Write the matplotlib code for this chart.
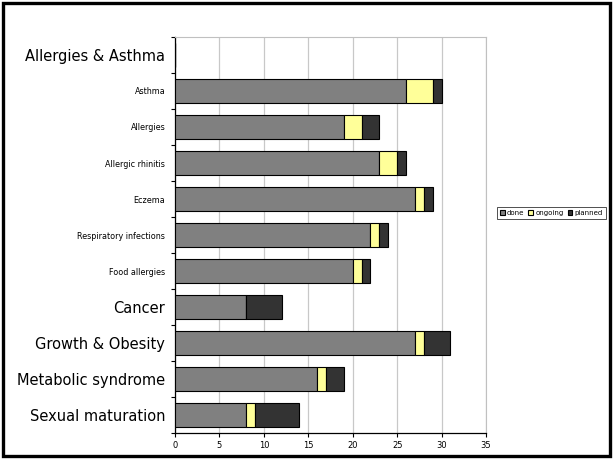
import matplotlib.pyplot as plt
from matplotlib.patches import Rectangle
import numpy as np

categories = ["Allergies & Asthma", "Asthma", "Allergies", "Allergic rhinitis", "Eczema",
              "Respiratory infections", "Food allergies", "Cancer", "Growth & Obesity",
              "Metabolic syndrome", "Sexual maturation"]
big = [True, False, False, False, False, False, False, True, True, True, True]
done = [0, 26, 19, 23, 27, 22, 20, 8, 27, 16, 8]
ongoing = [0, 3, 2, 2, 1, 1, 1, 0, 1, 1, 1]
planned = [0, 1, 2, 1, 1, 1, 1, 4, 3, 2, 5]

fig = plt.figure(figsize=(6.14, 4.61), dpi=100)
ax = fig.add_axes([175/614, 28/461, 311/614, 396/461])

y = np.arange(len(categories))
done = np.array(done)
ongoing = np.array(ongoing)
planned = np.array(planned)

kw = dict(height=0.64, edgecolor="black", linewidth=0.8, zorder=3)
ax.barh(y, done, color="#808080", label="done", **kw)
ax.barh(y, ongoing, left=done, color="#FFFF99", label="ongoing", **kw)
ax.barh(y, planned, left=done + ongoing, color="#333333", label="planned", **kw)

ax.set_xlim(0, 35)
ax.set_ylim(len(categories) - 0.5, -0.5)
ax.set_xticks(range(0, 36, 5))
ax.tick_params(axis="x", labelsize=6, length=3, width=0.8, pad=3)
ax.xaxis.grid(True, color="#c8c8c8", linewidth=0.9, zorder=0)

# category boundaries get the tick marks, labels sit at the bar centres
ax.set_yticks(np.arange(-0.5, len(categories), 1))
ax.set_yticklabels([])
ax.tick_params(axis="y", which="major", length=3, width=0.8)
ax.set_yticks(y, minor=True)
ax.set_yticklabels(categories, minor=True)
ax.tick_params(axis="y", which="minor", length=0, pad=7)
for lab, b in zip(ax.get_yticklabels(minor=True), big):
    lab.set_fontsize(10.5 if b else 5.8)

for s in ["top", "right"]:
    ax.spines[s].set_color("#c0c0c0")
ax.spines["left"].set_linewidth(0.9)
ax.spines["bottom"].set_linewidth(0.9)

leg = fig.legend(loc="center left", bbox_to_anchor=(497/614, 1 - 213/461), ncol=3,
                 fontsize=5, frameon=True, fancybox=False, edgecolor="black",
                 handlelength=0.7, handleheight=0.7, handletextpad=0.3,
                 columnspacing=0.6, borderpad=0.4, borderaxespad=0)
leg.get_frame().set_linewidth(0.6)

# outer frame around the whole figure
fig.patches.append(Rectangle((3/614, 5/461), 607/614, 453/461, transform=fig.transFigure,
                             fill=False, edgecolor="black", linewidth=2.4))

fig.savefig("out.png", dpi=100)
